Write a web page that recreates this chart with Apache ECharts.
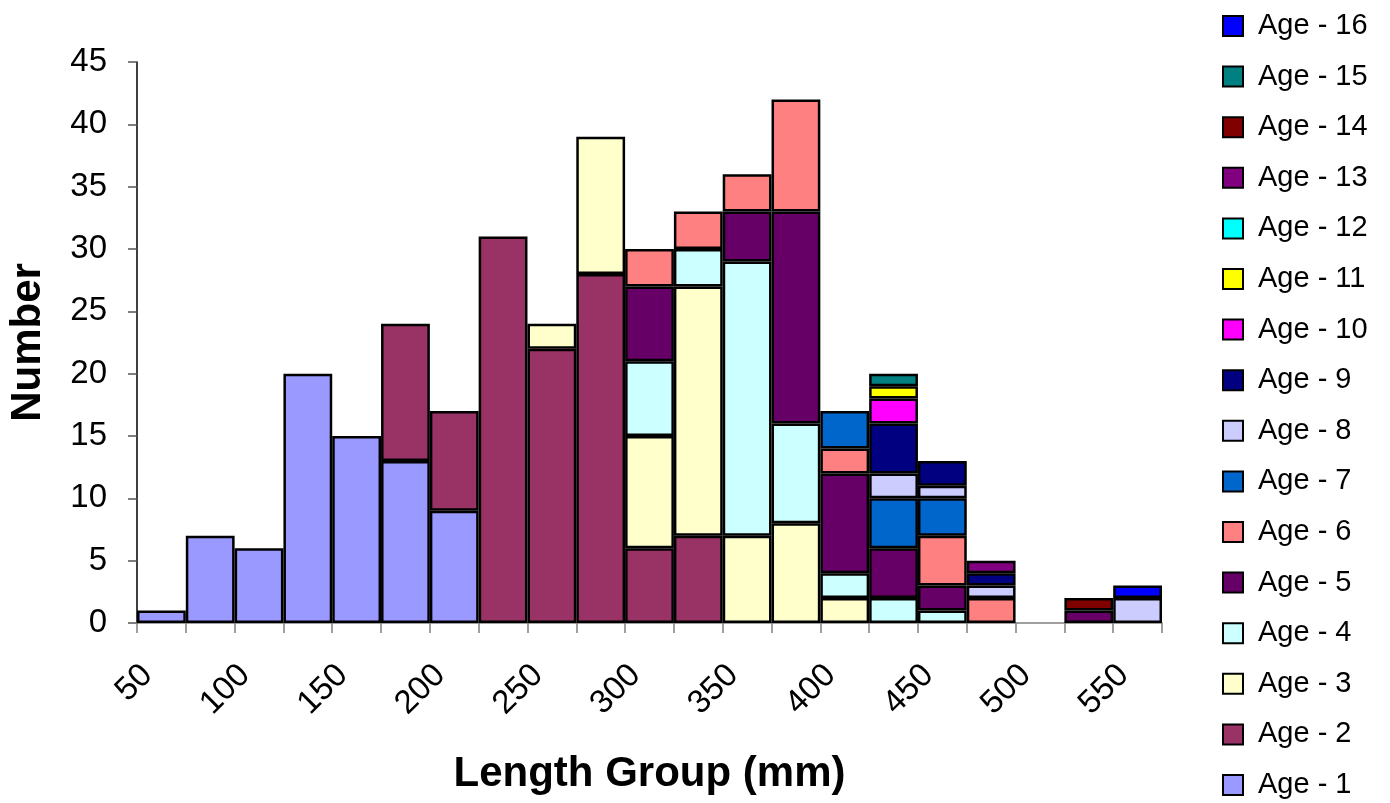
<!DOCTYPE html>
<html>
<head>
<meta charset="utf-8">
<script src="https://cdn.jsdelivr.net/npm/echarts@6/dist/echarts.min.js"></script>
<style>html,body{margin:0;padding:0;background:#fff;}#chart{width:1390px;height:803px;}</style>
</head>
<body>
<div id="chart"></div>
<script>
const categories = ['50','75','100','125','150','175','200','225','250','275','300','325','350','375','400','425','450','475','500','525','550'];
const yTicks = [0,5,10,15,20,25,30,35,40,45];
const ageNames = ['Age - 1','Age - 2','Age - 3','Age - 4','Age - 5','Age - 6','Age - 7','Age - 8','Age - 9','Age - 10','Age - 11','Age - 12','Age - 13','Age - 14','Age - 15','Age - 16'];
const ageColors = ['#9999FF','#993366','#FFFFCC','#CCFFFF','#660066','#FF8080','#0066CC','#CCCCFF','#000080','#FF00FF','#FFFF00','#00FFFF','#800080','#800000','#008080','#0000FF'];
//                 50 75 100 125 150 175 200 225 250 275 300 325 350 375 400 425 450 475 500 525 550
const age1  = [1, 7, 6, 20, 15, 13, 9, 0, 0, 0, 0, 0, 0, 0, 0, 0, 0, 0, 0, 0, 0];
const age2  = [0, 0, 0, 0, 0, 11, 8, 31, 22, 28, 6, 7, 0, 0, 0, 0, 0, 0, 0, 0, 0];
const age3  = [0, 0, 0, 0, 0, 0, 0, 0, 2, 11, 9, 20, 7, 8, 2, 0, 0, 0, 0, 0, 0];
const age4  = [0, 0, 0, 0, 0, 0, 0, 0, 0, 0, 6, 3, 22, 8, 2, 2, 1, 0, 0, 0, 0];
const age5  = [0, 0, 0, 0, 0, 0, 0, 0, 0, 0, 6, 0, 4, 17, 8, 4, 2, 0, 0, 1, 0];
const age6  = [0, 0, 0, 0, 0, 0, 0, 0, 0, 0, 3, 3, 3, 9, 2, 0, 4, 2, 0, 0, 0];
const age7  = [0, 0, 0, 0, 0, 0, 0, 0, 0, 0, 0, 0, 0, 0, 3, 4, 3, 0, 0, 0, 0];
const age8  = [0, 0, 0, 0, 0, 0, 0, 0, 0, 0, 0, 0, 0, 0, 0, 2, 1, 1, 0, 0, 2];
const age9  = [0, 0, 0, 0, 0, 0, 0, 0, 0, 0, 0, 0, 0, 0, 0, 4, 2, 1, 0, 0, 0];
const age10 = [0, 0, 0, 0, 0, 0, 0, 0, 0, 0, 0, 0, 0, 0, 0, 2, 0, 0, 0, 0, 0];
const age11 = [0, 0, 0, 0, 0, 0, 0, 0, 0, 0, 0, 0, 0, 0, 0, 1, 0, 0, 0, 0, 0];
const age12 = [0, 0, 0, 0, 0, 0, 0, 0, 0, 0, 0, 0, 0, 0, 0, 0, 0, 0, 0, 0, 0];
const age13 = [0, 0, 0, 0, 0, 0, 0, 0, 0, 0, 0, 0, 0, 0, 0, 0, 0, 1, 0, 0, 0];
const age14 = [0, 0, 0, 0, 0, 0, 0, 0, 0, 0, 0, 0, 0, 0, 0, 0, 0, 0, 0, 1, 0];
const age15 = [0, 0, 0, 0, 0, 0, 0, 0, 0, 0, 0, 0, 0, 0, 0, 1, 0, 0, 0, 0, 0];
const age16 = [0, 0, 0, 0, 0, 0, 0, 0, 0, 0, 0, 0, 0, 0, 0, 0, 0, 0, 0, 0, 1];

const ageData = [age1,age2,age3,age4,age5,age6,age7,age8,age9,age10,age11,age12,age13,age14,age15,age16];
const FONT = '"Liberation Sans", Arial, sans-serif';

const series = ageData.map((arr, i) => ({
  name: ageNames[i],
  type: 'bar',
  stack: 'total',
  barCategoryGap: 0,
  barGap: 0,
  data: arr.map(v => v === 0 ? '-' : v),
  itemStyle: { color: ageColors[i], borderColor: '#000', borderWidth: 2.5 },
  emphasis: { disabled: true },
  animation: false
}));

const chart = echarts.init(document.getElementById('chart'), null, { renderer: 'canvas' });
chart.setOption({
  animation: false,
  backgroundColor: '#fff',
  grid: { left: 137, right: 228, top: 62, bottom: 180, containLabel: false, outerBoundsMode: 'none' },
  legend: {
    orient: 'vertical',
    left: 1222,
    top: 11.5,
    height: 790,
    padding: 0,
    itemWidth: 20,
    itemHeight: 20,
    itemGap: 21.6,
    icon: 'rect',
    selectedMode: false,
    data: ageNames.slice().reverse(),
    textStyle: { fontFamily: FONT, fontSize: 29, color: '#000', lineHeight: 29, padding: [0, 0, 0, 10] }
  },
  xAxis: {
    type: 'category',
    data: categories,
    boundaryGap: true,
    name: 'Length Group (mm)',
    nameLocation: 'middle',
    nameGap: 130,
    nameTextStyle: { fontFamily: FONT, fontSize: 42, fontWeight: 'bold', color: '#000' },
    axisLine: { show: true, lineStyle: { color: '#808080', width: 1.5 } },
    axisTick: { show: true, interval: 0, length: 10, lineStyle: { color: '#808080', width: 1.5 } },
    axisLabel: { interval: 1, rotate: 45, margin: 33, padding: [0, 20, 0, 0], fontFamily: FONT, fontSize: 33, color: '#000' },
    splitLine: { show: false }
  },
  yAxis: {
    type: 'value',
    min: yTicks[0],
    max: yTicks[yTicks.length - 1],
    interval: 5,
    name: 'Number',
    nameLocation: 'middle',
    nameGap: 88,
    nameTextStyle: { fontFamily: FONT, fontSize: 42, fontWeight: 'bold', color: '#000' },
    axisLine: { show: true, lineStyle: { color: '#000', width: 1.5 } },
    axisTick: { show: true, length: 9, lineStyle: { color: '#555', width: 1.5 } },
    axisLabel: { margin: 30, fontFamily: FONT, fontSize: 33, color: '#000' },
    splitLine: { show: false }
  },
  series: series
});
</script>
</body>
</html>
